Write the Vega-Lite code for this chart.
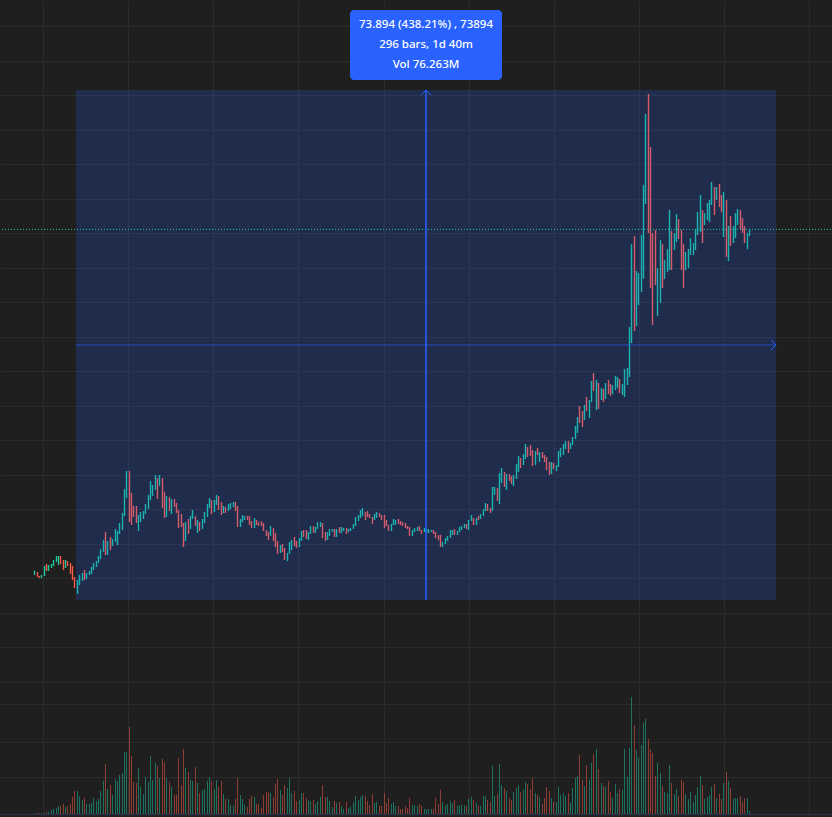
{"$schema":"https://vega.github.io/schema/vega-lite/v6.json","width":832,"height":817,"padding":0,"autosize":{"type":"fit","contains":"padding"},"background":"#1f1f1f","config":{"view":{"stroke":null},"axis":{"title":null,"labels":false,"ticks":false,"domain":false,"gridColor":"#2b2b2b","gridWidth":1,"grid":true}},
"datasets":{"candles":[
{"i":1,"high":21.11,"low":20.48,"dir":"up","vol":10},{"i":2,"high":20.91,"low":20.19,"dir":"down","vol":10},{"i":3,"high":20.33,"low":20.04,"dir":"down","vol":10},{"i":4,"high":20.48,"low":20.04,"dir":"up","vol":10},{"i":5,"high":21.78,"low":20.33,"dir":"up","vol":10},{"i":6,"high":22.07,"low":21.06,"dir":"down","vol":20},{"i":7,"high":21.93,"low":21.06,"dir":"up","vol":20},{"i":8,"high":22.07,"low":21.49,"dir":"up","vol":40},{"i":9,"high":22.65,"low":21.78,"dir":"up","vol":50},{"i":10,"high":23.23,"low":22.36,"dir":"up","vol":60},
{"i":11,"high":23.23,"low":21.93,"dir":"up","vol":80},{"i":12,"high":23.23,"low":22.07,"dir":"down","vol":80},{"i":13,"high":22.65,"low":21.2,"dir":"down","vol":100},{"i":14,"high":22.65,"low":21.49,"dir":"up","vol":70},{"i":15,"high":22.51,"low":21.78,"dir":"down","vol":80},{"i":16,"high":22.22,"low":20.62,"dir":"down","vol":100},{"i":17,"high":21.78,"low":19.75,"dir":"down","vol":170},{"i":18,"high":20.19,"low":18.59,"dir":"down","vol":230},{"i":19,"high":19.75,"low":17.72,"dir":"up","vol":230},{"i":20,"high":20.48,"low":19.03,"dir":"up","vol":180},
{"i":21,"high":20.77,"low":19.61,"dir":"up","vol":140},{"i":22,"high":21.2,"low":19.75,"dir":"down","vol":160},{"i":23,"high":20.77,"low":19.9,"dir":"up","vol":100},{"i":24,"high":21.06,"low":20.48,"dir":"up","vol":100},{"i":25,"high":21.64,"low":20.62,"dir":"up","vol":110},{"i":26,"high":22.22,"low":21.2,"dir":"up","vol":160},{"i":27,"high":22.51,"low":21.64,"dir":"up","vol":130},{"i":28,"high":23.23,"low":22.22,"dir":"up","vol":150},{"i":29,"high":24.24,"low":22.8,"dir":"up","vol":230},{"i":30,"high":25.55,"low":23.81,"dir":"up","vol":330},
{"i":31,"high":26.71,"low":23.38,"dir":"down","vol":500},{"i":32,"high":25.4,"low":23.38,"dir":"up","vol":250},{"i":33,"high":25.98,"low":24.1,"dir":"down","vol":290},{"i":34,"high":25.69,"low":24.68,"dir":"up","vol":190},{"i":35,"high":27.14,"low":25.26,"dir":"up","vol":350},{"i":36,"high":26.85,"low":24.82,"dir":"up","vol":330},{"i":37,"high":28.01,"low":26.42,"dir":"up","vol":390},{"i":38,"high":29.46,"low":27,"dir":"up","vol":410},{"i":39,"high":32.94,"low":29.03,"dir":"up","vol":620},{"i":40,"high":35.55,"low":31.63,"dir":"up","vol":620},
{"i":41,"high":35.55,"low":28.16,"dir":"down","vol":870},{"i":42,"high":32.36,"low":27.72,"dir":"down","vol":580},{"i":43,"high":30.48,"low":28.88,"dir":"down","vol":320},{"i":44,"high":30.48,"low":28.01,"dir":"down","vol":310},{"i":45,"high":29.17,"low":26.85,"dir":"up","vol":460},{"i":46,"high":29.61,"low":28.16,"dir":"up","vol":270},{"i":47,"high":29.75,"low":28.59,"dir":"up","vol":200},{"i":48,"high":30.77,"low":29.32,"dir":"up","vol":370},{"i":49,"high":32.07,"low":30.04,"dir":"up","vol":320},{"i":50,"high":34.1,"low":31.34,"dir":"up","vol":580},
{"i":51,"high":33.52,"low":31.92,"dir":"up","vol":340},{"i":52,"high":34.97,"low":32.79,"dir":"up","vol":510},{"i":53,"high":34.53,"low":31.49,"dir":"down","vol":480},{"i":54,"high":34.97,"low":33.37,"dir":"up","vol":360},{"i":55,"high":34.53,"low":30.19,"dir":"down","vol":550},{"i":56,"high":32.5,"low":28.74,"dir":"down","vol":520},{"i":57,"high":31.92,"low":28.88,"dir":"up","vol":360},{"i":58,"high":31.78,"low":29.75,"dir":"down","vol":320},{"i":59,"high":31.49,"low":29.32,"dir":"up","vol":270},{"i":60,"high":31.49,"low":30.33,"dir":"down","vol":190},
{"i":61,"high":30.91,"low":29.46,"dir":"down","vol":190},{"i":62,"high":29.9,"low":27.29,"dir":"down","vol":560},{"i":63,"high":29.32,"low":27.43,"dir":"down","vol":290},{"i":64,"high":28.01,"low":24.53,"dir":"down","vol":650},{"i":65,"high":28.16,"low":25.4,"dir":"up","vol":460},{"i":66,"high":28.59,"low":26.42,"dir":"down","vol":420},{"i":67,"high":29.03,"low":27.14,"dir":"up","vol":340},{"i":68,"high":29.9,"low":28.59,"dir":"up","vol":330},{"i":69,"high":29.03,"low":27.58,"dir":"down","vol":470},{"i":70,"high":28.45,"low":26.56,"dir":"up","vol":310},
{"i":71,"high":28.16,"low":26.85,"dir":"down","vol":210},{"i":72,"high":28.59,"low":27.14,"dir":"up","vol":240},{"i":73,"high":29.61,"low":28.01,"dir":"up","vol":250},{"i":74,"high":30.77,"low":28.88,"dir":"up","vol":330},{"i":75,"high":31.63,"low":30.19,"dir":"up","vol":370},{"i":76,"high":31.34,"low":29.32,"dir":"down","vol":330},{"i":77,"high":31.34,"low":29.61,"dir":"up","vol":250},{"i":78,"high":32.07,"low":30.62,"dir":"up","vol":340},{"i":79,"high":31.92,"low":29.9,"dir":"down","vol":270},{"i":80,"high":31.06,"low":29.17,"dir":"down","vol":330},
{"i":81,"high":30.48,"low":29.46,"dir":"up","vol":200},{"i":82,"high":30.33,"low":29.46,"dir":"down","vol":150},{"i":83,"high":30.77,"low":29.75,"dir":"up","vol":150},{"i":84,"high":30.91,"low":30.04,"dir":"up","vol":90},{"i":85,"high":31.06,"low":30.33,"dir":"up","vol":80},{"i":86,"high":31.06,"low":29.75,"dir":"down","vol":150},{"i":87,"high":30.48,"low":27.43,"dir":"down","vol":360},{"i":88,"high":28.59,"low":27.43,"dir":"up","vol":190},{"i":89,"high":29.17,"low":28.16,"dir":"up","vol":150},{"i":90,"high":29.03,"low":28.45,"dir":"up","vol":90},
{"i":91,"high":29.03,"low":28.45,"dir":"down","vol":70},{"i":92,"high":29.03,"low":27.72,"dir":"down","vol":150},{"i":93,"high":28.3,"low":27.29,"dir":"down","vol":180},{"i":94,"high":28.74,"low":27.29,"dir":"up","vol":170},{"i":95,"high":28.45,"low":27.72,"dir":"down","vol":100},{"i":96,"high":28.16,"low":27.58,"dir":"down","vol":100},{"i":97,"high":28.3,"low":27.58,"dir":"down","vol":60},{"i":98,"high":28.01,"low":26.85,"dir":"down","vol":190},{"i":99,"high":27,"low":26.13,"dir":"down","vol":220},{"i":100,"high":26.71,"low":25.55,"dir":"down","vol":220},
{"i":101,"high":27.58,"low":26.13,"dir":"up","vol":210},{"i":102,"high":27.29,"low":25.4,"dir":"down","vol":170},{"i":103,"high":26.56,"low":24.53,"dir":"down","vol":300},{"i":104,"high":25.4,"low":23.52,"dir":"down","vol":350},{"i":105,"high":24.82,"low":23.67,"dir":"up","vol":240},{"i":106,"high":24.97,"low":23.81,"dir":"down","vol":190},{"i":107,"high":24.39,"low":22.65,"dir":"down","vol":290},{"i":108,"high":23.67,"low":22.51,"dir":"up","vol":260},{"i":109,"high":25.26,"low":23.52,"dir":"up","vol":360},{"i":110,"high":25.55,"low":24.1,"dir":"up","vol":210},
{"i":111,"high":25.99,"low":24.68,"dir":"down","vol":230},{"i":112,"high":25.41,"low":24.39,"dir":"down","vol":130},{"i":113,"high":25.84,"low":24.54,"dir":"up","vol":140},{"i":114,"high":26.86,"low":25.41,"dir":"up","vol":210},{"i":115,"high":27,"low":25.99,"dir":"down","vol":210},{"i":116,"high":27,"low":25.7,"dir":"down","vol":160},{"i":117,"high":26.71,"low":25.55,"dir":"up","vol":140},{"i":118,"high":27.58,"low":26.42,"dir":"up","vol":130},{"i":119,"high":27.58,"low":26.57,"dir":"down","vol":140},{"i":120,"high":27.43,"low":26.57,"dir":"up","vol":100},
{"i":121,"high":28.16,"low":27.14,"dir":"up","vol":130},{"i":122,"high":28.16,"low":27.43,"dir":"up","vol":170},{"i":123,"high":28.01,"low":25.84,"dir":"down","vol":290},{"i":124,"high":26.71,"low":25.41,"dir":"down","vol":170},{"i":125,"high":26.71,"low":25.55,"dir":"up","vol":170},{"i":126,"high":27.14,"low":26.13,"dir":"up","vol":130},{"i":127,"high":27.14,"low":26.71,"dir":"up","vol":70},{"i":128,"high":27.14,"low":25.99,"dir":"down","vol":130},{"i":129,"high":27.14,"low":25.99,"dir":"up","vol":110},{"i":130,"high":27.43,"low":26.57,"dir":"down","vol":120},
{"i":131,"high":27.43,"low":26.57,"dir":"up","vol":80},{"i":132,"high":27.29,"low":26.86,"dir":"up","vol":50},{"i":133,"high":27.29,"low":26.42,"dir":"down","vol":120},{"i":134,"high":27.14,"low":26.71,"dir":"up","vol":60},{"i":135,"high":27.29,"low":26.86,"dir":"up","vol":70},{"i":136,"high":27.87,"low":27.14,"dir":"up","vol":120},{"i":137,"high":28.88,"low":27.58,"dir":"up","vol":180},{"i":138,"high":29.17,"low":28.3,"dir":"up","vol":140},{"i":139,"high":29.9,"low":28.74,"dir":"up","vol":170},{"i":140,"high":30.19,"low":29.03,"dir":"up","vol":190},
{"i":141,"high":29.61,"low":28.45,"dir":"down","vol":180},{"i":142,"high":29.75,"low":28.88,"dir":"down","vol":130},{"i":143,"high":29.32,"low":28.74,"dir":"down","vol":90},{"i":144,"high":28.88,"low":27.87,"dir":"down","vol":200},{"i":145,"high":29.32,"low":28.45,"dir":"up","vol":110},{"i":146,"high":29.61,"low":28.74,"dir":"up","vol":120},{"i":147,"high":29.46,"low":28.88,"dir":"down","vol":80},{"i":148,"high":29.17,"low":28.45,"dir":"down","vol":80},{"i":149,"high":29.17,"low":27.29,"dir":"down","vol":210},{"i":150,"high":28.45,"low":27.58,"dir":"down","vol":110},
{"i":151,"high":27.72,"low":26.86,"dir":"down","vol":160},{"i":152,"high":27.87,"low":26.86,"dir":"up","vol":100},{"i":153,"high":28.59,"low":27.72,"dir":"up","vol":120},{"i":154,"high":28.45,"low":27.72,"dir":"up","vol":80},{"i":155,"high":28.59,"low":27.87,"dir":"down","vol":80},{"i":156,"high":28.3,"low":27.72,"dir":"down","vol":50},{"i":157,"high":28.16,"low":27.58,"dir":"down","vol":50},{"i":158,"high":28.01,"low":27.29,"dir":"down","vol":80},{"i":159,"high":27.58,"low":27.14,"dir":"down","vol":60},{"i":160,"high":27.43,"low":26.13,"dir":"down","vol":160},
{"i":161,"high":27,"low":26.13,"dir":"up","vol":90},{"i":162,"high":27.29,"low":26.71,"dir":"up","vol":90},{"i":163,"high":27.43,"low":26.86,"dir":"up","vol":80},{"i":164,"high":27.58,"low":26.86,"dir":"down","vol":100},{"i":165,"high":27,"low":26.42,"dir":"down","vol":80},{"i":166,"high":27.29,"low":26.71,"dir":"up","vol":50},{"i":167,"high":27.14,"low":26.57,"dir":"up","vol":50},{"i":168,"high":27.14,"low":26.57,"dir":"up","vol":50},{"i":169,"high":27,"low":26.71,"dir":"up","vol":50},{"i":170,"high":27,"low":26.42,"dir":"down","vol":50},
{"i":171,"high":26.71,"low":25.84,"dir":"down","vol":160},{"i":172,"high":26.28,"low":25.55,"dir":"down","vol":100},{"i":173,"high":26.28,"low":24.54,"dir":"down","vol":240},{"i":174,"high":25.26,"low":24.54,"dir":"up","vol":120},{"i":175,"high":25.84,"low":24.97,"dir":"up","vol":90},{"i":176,"high":26.13,"low":25.41,"dir":"up","vol":100},{"i":177,"high":27,"low":25.84,"dir":"up","vol":130},{"i":178,"high":27,"low":26.28,"dir":"up","vol":110},{"i":179,"high":27.14,"low":26.28,"dir":"down","vol":140},{"i":180,"high":26.86,"low":26.28,"dir":"up","vol":80},
{"i":181,"high":27.43,"low":26.71,"dir":"up","vol":90},{"i":182,"high":27.58,"low":27,"dir":"up","vol":90},{"i":183,"high":27.87,"low":27.29,"dir":"up","vol":90},{"i":184,"high":27.87,"low":27.14,"dir":"down","vol":80},{"i":185,"high":28.45,"low":27,"dir":"up","vol":150},{"i":186,"high":29.17,"low":28.3,"dir":"up","vol":170},{"i":187,"high":28.74,"low":27.72,"dir":"down","vol":140},{"i":188,"high":28.74,"low":27.72,"dir":"up","vol":110},{"i":189,"high":29.03,"low":28.45,"dir":"down","vol":80},{"i":190,"high":29.32,"low":28.59,"dir":"up","vol":80},
{"i":191,"high":30.04,"low":29.03,"dir":"up","vol":180},{"i":192,"high":30.91,"low":29.75,"dir":"up","vol":180},{"i":193,"high":30.77,"low":29.75,"dir":"down","vol":140},{"i":194,"high":30.19,"low":29.46,"dir":"down","vol":120},{"i":195,"high":33.23,"low":29.75,"dir":"up","vol":480},{"i":196,"high":33.23,"low":32.07,"dir":"up","vol":180},{"i":197,"high":33.09,"low":31.2,"dir":"down","vol":200},{"i":198,"high":35.26,"low":30.77,"dir":"up","vol":500},{"i":199,"high":35.98,"low":33.81,"dir":"up","vol":290},{"i":200,"high":35.4,"low":33.23,"dir":"down","vol":260},
{"i":201,"high":35.11,"low":32.8,"dir":"up","vol":230},{"i":202,"high":35.11,"low":34.1,"dir":"down","vol":160},{"i":203,"high":34.82,"low":33.67,"dir":"down","vol":140},{"i":204,"high":34.97,"low":33.38,"dir":"up","vol":220},{"i":205,"high":36.56,"low":34.39,"dir":"up","vol":260},{"i":206,"high":37.72,"low":35.4,"dir":"up","vol":290},{"i":207,"high":37.43,"low":35.98,"dir":"down","vol":220},{"i":208,"high":38.01,"low":36.42,"dir":"up","vol":240},{"i":209,"high":39.46,"low":37.29,"dir":"up","vol":320},{"i":210,"high":39.03,"low":37.58,"dir":"down","vol":300},
{"i":211,"high":39.32,"low":37.72,"dir":"down","vol":250},{"i":212,"high":38.59,"low":36.27,"dir":"down","vol":360},{"i":213,"high":38.45,"low":36.42,"dir":"up","vol":210},{"i":214,"high":38.88,"low":37.87,"dir":"down","vol":190},{"i":215,"high":38.3,"low":36.85,"dir":"up","vol":170},{"i":216,"high":38.3,"low":37.43,"dir":"down","vol":100},{"i":217,"high":37.87,"low":36.85,"dir":"down","vol":160},{"i":218,"high":37.58,"low":35.69,"dir":"down","vol":270},{"i":219,"high":36.85,"low":34.97,"dir":"down","vol":230},{"i":220,"high":36.85,"low":35.11,"dir":"up","vol":160},
{"i":221,"high":36.71,"low":35.84,"dir":"down","vol":120},{"i":222,"high":36.42,"low":35.55,"dir":"up","vol":120},{"i":223,"high":38.45,"low":36.13,"dir":"up","vol":270},{"i":224,"high":38.88,"low":37.58,"dir":"up","vol":190},{"i":225,"high":39.46,"low":37.87,"dir":"up","vol":210},{"i":226,"high":39.9,"low":38.74,"dir":"up","vol":180},{"i":227,"high":39.9,"low":38.16,"dir":"down","vol":210},{"i":228,"high":39.61,"low":38.74,"dir":"up","vol":110},{"i":229,"high":40.47,"low":39.32,"dir":"up","vol":260},{"i":230,"high":42.07,"low":40.18,"dir":"up","vol":360},
{"i":231,"high":43.37,"low":41.05,"dir":"up","vol":380},{"i":232,"high":44.97,"low":42.5,"dir":"down","vol":590},{"i":233,"high":44.24,"low":41.92,"dir":"down","vol":340},{"i":234,"high":45.11,"low":42.94,"dir":"up","vol":280},{"i":235,"high":46.27,"low":44.24,"dir":"down","vol":490},{"i":236,"high":45.84,"low":43.23,"dir":"up","vol":340},{"i":237,"high":48.59,"low":45.55,"dir":"up","vol":510},{"i":238,"high":49.75,"low":47.14,"dir":"down","vol":600},{"i":239,"high":48.73,"low":44.39,"dir":"up","vol":650},{"i":240,"high":48.3,"low":44.53,"dir":"down","vol":450},
{"i":241,"high":47.57,"low":45.84,"dir":"up","vol":310},{"i":242,"high":47.43,"low":45.55,"dir":"down","vol":280},{"i":243,"high":48.3,"low":45.98,"dir":"up","vol":270},{"i":244,"high":48.73,"low":46.71,"dir":"down","vol":330},{"i":245,"high":48.15,"low":46.42,"dir":"down","vol":220},{"i":246,"high":48.01,"low":46.71,"dir":"up","vol":160},{"i":247,"high":49.31,"low":47.28,"dir":"up","vol":300},{"i":248,"high":49.17,"low":47.57,"dir":"up","vol":210},{"i":249,"high":48.88,"low":46.85,"dir":"down","vol":250},{"i":250,"high":48.15,"low":46.56,"dir":"up","vol":240},
{"i":251,"high":50.33,"low":46.27,"dir":"up","vol":650},{"i":252,"high":50.47,"low":48.01,"dir":"up","vol":370},{"i":253,"high":56.41,"low":49.17,"dir":"up","vol":660},{"i":254,"high":68.43,"low":54.09,"dir":"up","vol":1170},{"i":255,"high":69.59,"low":55.83,"dir":"down","vol":890},{"i":256,"high":64.52,"low":56.55,"dir":"up","vol":640},{"i":257,"high":64.23,"low":59.6,"dir":"up","vol":560},{"i":258,"high":69.74,"low":61.48,"dir":"up","vol":690},{"i":259,"high":77,"low":63.4,"dir":"up","vol":910},{"i":260,"high":87.28,"low":74.24,"dir":"up","vol":950},
{"i":261,"high":90.18,"low":70.03,"dir":"down","vol":750},{"i":262,"high":82.5,"low":62.06,"dir":"down","vol":650},{"i":263,"high":70.03,"low":56.7,"dir":"down","vol":610},{"i":264,"high":70.46,"low":62.49,"dir":"down","vol":380},{"i":265,"high":64.96,"low":58,"dir":"up","vol":510},{"i":266,"high":69.01,"low":59.89,"dir":"up","vol":410},{"i":267,"high":68.43,"low":62.06,"dir":"down","vol":280},{"i":268,"high":66.12,"low":63.36,"dir":"up","vol":220},{"i":269,"high":67.71,"low":64.38,"dir":"up","vol":210},{"i":270,"high":73.36,"low":64.67,"dir":"up","vol":490},
{"i":271,"high":70.32,"low":64.67,"dir":"down","vol":310},{"i":272,"high":70.03,"low":67.56,"dir":"up","vol":200},{"i":273,"high":72.78,"low":68.72,"dir":"up","vol":250},{"i":274,"high":72.06,"low":69.16,"dir":"down","vol":180},{"i":275,"high":70.46,"low":64.67,"dir":"down","vol":340},{"i":276,"high":68.43,"low":62.06,"dir":"down","vol":320},{"i":277,"high":67.28,"low":64.67,"dir":"up","vol":200},{"i":278,"high":67.71,"low":64.96,"dir":"up","vol":150},{"i":279,"high":69.3,"low":66.84,"dir":"up","vol":220},{"i":280,"high":68.58,"low":66.84,"dir":"up","vol":120},
{"i":281,"high":70.61,"low":67.56,"dir":"up","vol":190},{"i":282,"high":73.07,"low":69.74,"dir":"up","vol":270},{"i":283,"high":75.54,"low":70.17,"dir":"up","vol":380},{"i":284,"high":73.36,"low":68.58,"dir":"down","vol":290},{"i":285,"high":72.92,"low":71.19,"dir":"up","vol":150},{"i":286,"high":74.38,"low":71.9,"dir":"up","vol":170},{"i":287,"high":74.82,"low":71.62,"dir":"up","vol":190},{"i":288,"high":77.42,"low":74.09,"dir":"up","vol":270},{"i":289,"high":76.7,"low":72.64,"dir":"down","vol":300},{"i":290,"high":76.7,"low":74.82,"dir":"up","vol":160},
{"i":291,"high":77.14,"low":73.8,"dir":"down","vol":200},{"i":292,"high":75.54,"low":73.07,"dir":"down","vol":150},{"i":293,"high":75.98,"low":69.45,"dir":"up","vol":310},{"i":294,"high":74.82,"low":66.55,"dir":"down","vol":420},{"i":295,"high":71.04,"low":65.97,"dir":"up","vol":330},{"i":296,"high":72.49,"low":68.15,"dir":"down","vol":260},{"i":297,"high":71.04,"low":68.58,"dir":"up","vol":150},{"i":298,"high":72.93,"low":69.3,"dir":"up","vol":160},{"i":299,"high":73.5,"low":71.19,"dir":"up","vol":160},{"i":300,"high":73.36,"low":70.61,"dir":"down","vol":180},
{"i":301,"high":72.2,"low":70.03,"dir":"down","vol":120},{"i":302,"high":71.04,"low":68.58,"dir":"down","vol":160},{"i":303,"high":70.03,"low":67.71,"dir":"up","vol":160},{"i":304,"high":70.61,"low":69.59,"dir":"up","vol":30}
],
"measure":[{"a":18.6,"b":315.4,"mid":167,"low":16.86,"high":90.76,"pmid":53.81,"last":70.56,"axisline":-14.23}],
"box":[{"a":134.87,"b":199.14,"low":92.2,"high":102.35}],
"labels":[{"i":167,"p":100.17,"t":"73.894 (438.21%) , 73894"},{"i":167,"p":97.25,"t":"296 bars, 1d 40m"},{"i":167,"p":94.37,"t":"Vol 76.263M"}]},
"resolve":{"scale":{"y":"independent"}},
"layer":[
{"data":{"name":"candles"},"mark":{"type":"bar","width":1,"xOffset":0.5},"encoding":{
"x":{"field":"i","type":"quantitative","scale":{"domain":[-13.123,338.67],"nice":false,"zero":false,"padding":0,"round":true},"axis":{"grid":true,"values":[4.6,40.7,76.8,112.9,149,185.1,221.2,257.3,293.4,329.5]}},
"y":{"field":"vol","type":"quantitative","stack":null,"scale":{"domain":[-30,8140],"nice":false,"zero":false,"padding":0},"axis":{"grid":true,"orient":"right","values":[370,720,1100]}},
"color":{"field":"dir","type":"nominal","legend":null,"scale":{"domain":["up","down"],"range":["#19c8a0","#ff5a46"]}},
"opacity":{"value":0.5}}},
{"layer":[
{"data":{"name":"candles"},"mark":{"type":"bar","width":1.4,"xOffset":0.5},"encoding":{
"x":{"field":"i","type":"quantitative","scale":{"domain":[-13.123,338.67],"nice":false,"zero":false,"padding":0,"round":true},"axis":{"grid":true,"values":[4.6,40.7,76.8,112.9,149,185.1,221.2,257.3,293.4,329.5]}},
"y":{"field":"high","type":"quantitative","scale":{"domain":[-14.59,103.8],"nice":false,"zero":false,"padding":0},"axis":{"grid":true,"orient":"left","values":[5,10,15,20,25,30,35,40,45,50,55,60,65,70,75,80,85,90,95,100]}},
"y2":{"field":"low"},
"color":{"field":"dir","type":"nominal","legend":null,"scale":{"domain":["up","down"],"range":["#19c8a0","#ff5a46"]}}}},
{"data":{"name":"measure"},"mark":{"type":"rect","color":"#2962ff","opacity":0.2},"encoding":{"x":{"field":"a","type":"quantitative"},"x2":{"field":"b"},"y":{"field":"low","type":"quantitative"},"y2":{"field":"high"}}},
{"data":{"name":"measure"},"mark":{"type":"rule","color":"#26c6a8","strokeWidth":1,"strokeDash":[1,2]},"encoding":{"y":{"field":"last","type":"quantitative"}}},
{"data":{"name":"measure"},"mark":{"type":"rule","color":"#2a3048","strokeWidth":1.5},"encoding":{"y":{"field":"axisline","type":"quantitative"}}},
{"data":{"name":"measure"},"mark":{"type":"rule","color":"#2962ff","strokeWidth":0.8,"opacity":0.8},"encoding":{"x":{"field":"a","type":"quantitative"},"x2":{"field":"b"},"y":{"field":"pmid","type":"quantitative"}}},
{"data":{"name":"measure"},"mark":{"type":"rule","color":"#2962ff","strokeWidth":1.5},"encoding":{"x":{"field":"mid","type":"quantitative"},"y":{"field":"low","type":"quantitative"},"y2":{"field":"high"}}},
{"data":{"name":"measure"},"mark":{"type":"point","shape":"M-1,1L0,0L1,1","filled":false,"color":"#2962ff","strokeWidth":1,"size":100,"opacity":1},"encoding":{"x":{"field":"mid","type":"quantitative"},"y":{"field":"high","type":"quantitative"}}},
{"data":{"name":"measure"},"mark":{"type":"point","shape":"M-1,-1L0,0L-1,1","filled":false,"color":"#2962ff","strokeWidth":1,"size":100,"opacity":1},"encoding":{"x":{"field":"b","type":"quantitative"},"y":{"field":"pmid","type":"quantitative"}}},
{"data":{"name":"box"},"mark":{"type":"rect","color":"#2962ff","cornerRadius":4},"encoding":{"x":{"field":"a","type":"quantitative"},"x2":{"field":"b"},"y":{"field":"low","type":"quantitative"},"y2":{"field":"high"}}},
{"data":{"name":"labels"},"mark":{"type":"text","color":"#ffffff","font":"Noto Sans","fontSize":11.5,"fontWeight":500,"align":"center","baseline":"middle"},"encoding":{"x":{"field":"i","type":"quantitative"},"y":{"field":"p","type":"quantitative"},"text":{"field":"t"}}}
]}
]}
